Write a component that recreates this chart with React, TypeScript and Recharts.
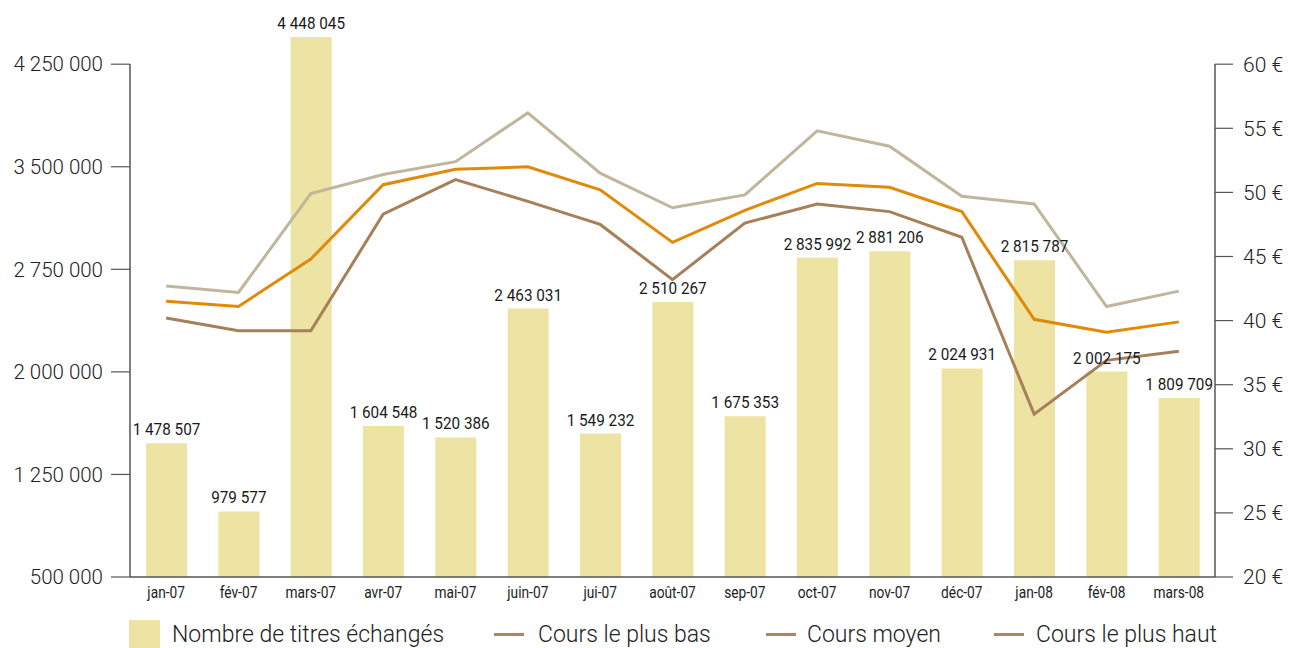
import React from 'react';
import {
  ComposedChart, Bar, Line, XAxis, YAxis, LabelList,
} from 'recharts';

const MONTHS = [
  'jan-07', 'fév-07', 'mars-07', 'avr-07', 'mai-07', 'juin-07', 'jui-07', 'août-07',
  'sep-07', 'oct-07', 'nov-07', 'déc-07', 'jan-08', 'fév-08', 'mars-08',
];

const VOLUMES = [
  1478507, 979577, 4448045, 1604548, 1520386, 2463031, 1549232, 2510267,
  1675353, 2835992, 2881206, 2024931, 2815787, 2002175, 1809709,
];

const LOW_PRICE = [
  40.2, 39.2, 39.2, 48.3, 51.0, 49.3, 47.5, 43.2, 47.6, 49.1, 48.5, 46.5, 32.7, 36.9, 37.6,
];
const AVG_PRICE = [
  41.5, 41.1, 44.8, 50.6, 51.8, 52.0, 50.2, 46.1, 48.6, 50.7, 50.4, 48.5, 40.1, 39.1, 39.9,
];
const HIGH_PRICE = [
  42.7, 42.2, 49.9, 51.4, 52.4, 56.2, 51.5, 48.8, 49.8, 54.8, 53.6, 49.7, 49.1, 41.1, 42.3,
];

const VOLUME_TICKS = [500000, 1250000, 2000000, 2750000, 3500000, 4250000];
const PRICE_TICKS = [20, 25, 30, 35, 40, 45, 50, 55, 60];

const data = MONTHS.map((m, i) => ({
  month: m,
  volume: VOLUMES[i],
  low: LOW_PRICE[i],
  avg: AVG_PRICE[i],
  high: HIGH_PRICE[i],
}));

const BAR_COLOR = '#ede3a3';
const LOW_COLOR = '#a58058';
const AVG_COLOR = '#e08a0a';
const HIGH_COLOR = '#bfb69c';
const LEGEND_LINE = '#a98763';
const AXIS_COLOR = '#555';

const FONT = 'Roboto, "Liberation Sans", sans-serif';

// thousands separated by non-breaking spaces so labels never wrap
const group = (v: number) => String(v).replace(/\B(?=(\d{3})+(?!\d))/g, '\u00a0');

// hide the part of the axis line above the top tick
const axisLineStyle = { stroke: AXIS_COLOR, strokeWidth: 1.5, strokeDasharray: '0 34 2000' };

// condensed text: squeeze horizontally around the anchor point
const NarrowTick = (props: any) => {
  const { x, y, payload } = props;
  return (
    <g transform={`translate(${x},${y})`}>
      <text
        transform="scale(0.86,1)"
        x={0}
        y={0}
        dy={13}
        textAnchor="middle"
        fill="#222"
        fontSize={16}
        fontFamily={FONT}
      >
        {payload.value}
      </text>
    </g>
  );
};

const BarValueLabel = (props: any) => {
  const { x, y, width, value } = props;
  const cx = Number(x) + Number(width) / 2;
  return (
    <g transform={`translate(${cx},${Number(y) - 8})`}>
      <text transform="scale(0.9,1)" x={0} y={0} textAnchor="middle" fill="#1a1a1a" fontSize={17} fontFamily={FONT}>
        {group(Number(value))}
      </text>
    </g>
  );
};

export default function App() {
  return (
    <div style={{ position: 'absolute', left: 0, top: 0, width: 1293, height: 648, background: '#fff' }}>
      <ComposedChart
        width={1293}
        height={648}
        data={data}
        margin={{ top: 30, right: 0, bottom: 0, left: 0 }}
      >
        <XAxis
          dataKey="month"
          height={71}
          tickLine={false}
          axisLine={{ stroke: AXIS_COLOR, strokeWidth: 1.5 }}
          tick={<NarrowTick />}
          interval={0}
        />
        <YAxis
          yAxisId="vol"
          orientation="left"
          width={130}
          domain={[500000, 4500000]}
          ticks={VOLUME_TICKS}
          tickFormatter={group}
          tickSize={19}
          tickMargin={8}
          tickLine={{ stroke: AXIS_COLOR, strokeWidth: 1.2 }}
          axisLine={axisLineStyle}
          tick={{ fill: '#222', fontSize: 20.5, fontFamily: FONT, fontWeight: 300 }}
        />
        <YAxis
          yAxisId="price"
          orientation="right"
          width={78}
          domain={[20, 62.6667]}
          ticks={PRICE_TICKS}
          tickFormatter={(v: number) => `${v}\u00a0€`}
          tickSize={18}
          tickMargin={10}
          tickLine={{ stroke: AXIS_COLOR, strokeWidth: 1.2 }}
          axisLine={axisLineStyle}
          tick={{ fill: '#222', fontSize: 21, fontFamily: FONT, fontWeight: 300 }}
        />
        <Bar yAxisId="vol" dataKey="volume" fill={BAR_COLOR} barSize={41} isAnimationActive={false}>
          <LabelList dataKey="volume" content={<BarValueLabel />} />
        </Bar>
        <Line yAxisId="price" dataKey="high" stroke={HIGH_COLOR} strokeWidth={3} dot={false} type="linear" isAnimationActive={false} />
        <Line yAxisId="price" dataKey="avg" stroke={AVG_COLOR} strokeWidth={3} dot={false} type="linear" isAnimationActive={false} />
        <Line yAxisId="price" dataKey="low" stroke={LOW_COLOR} strokeWidth={3} dot={false} type="linear" isAnimationActive={false} />
      </ComposedChart>

      <div
        style={{
          position: 'absolute', left: 129, top: 620, height: 28, display: 'flex', alignItems: 'center',
          fontFamily: FONT, fontWeight: 300, fontSize: 23, color: '#222', whiteSpace: 'nowrap',
        }}
      >
        <span style={{ display: 'inline-block', width: 31, height: 28, background: BAR_COLOR, marginRight: 12 }} />
        <span style={{ width: 322 }}>Nombre de titres échangés</span>
        <span style={{ display: 'inline-block', width: 30, height: 3, background: LEGEND_LINE, marginRight: 14 }} />
        <span style={{ width: 228 }}>Cours le plus bas</span>
        <span style={{ display: 'inline-block', width: 30, height: 3, background: LEGEND_LINE, marginRight: 11 }} />
        <span style={{ width: 187 }}>Cours moyen</span>
        <span style={{ display: 'inline-block', width: 30, height: 3, background: LEGEND_LINE, marginRight: 12 }} />
        <span>Cours le plus haut</span>
      </div>
    </div>
  );
}
